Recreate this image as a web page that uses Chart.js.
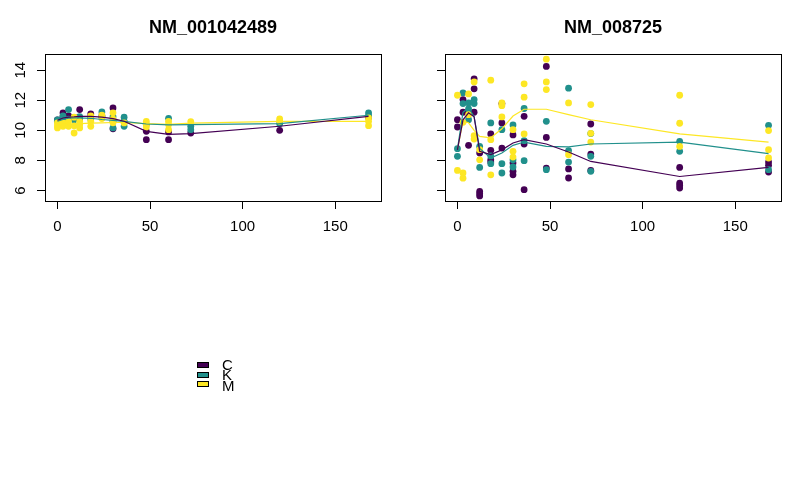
<!DOCTYPE html>
<html>
<head>
<meta charset="utf-8">
<script src="https://cdn.jsdelivr.net/npm/chart.js@4.4.1/dist/chart.umd.min.js"></script>
<style>
  body { margin: 0; background: #fff; font-family: "Liberation Sans", Arial, sans-serif; }
  #wrap { position: relative; width: 799px; height: 494px; overflow: hidden; }
  canvas { position: absolute; top: 0; }
  .key { position: absolute; left: 197px; width: 10px; height: 4px; border: 1px solid #000; }
  .lab { position: absolute; left: 222px; font-size: 15px; line-height: 15px; color: #000; }
</style>
</head>
<body>
<div id="wrap">
  <canvas id="left" width="400" height="494" style="left:0"></canvas>
  <canvas id="right" width="399" height="494" style="left:400px"></canvas>
  <div class="key" style="top:362px;background:#440154"></div>
  <div class="key" style="top:372px;background:#21908C"></div>
  <div class="key" style="top:381px;background:#FDE725"></div>
  <div class="lab" style="top:357px">C</div>
  <div class="lab" style="top:367px">K</div>
  <div class="lab" style="top:378px">M</div>
</div>
<script>
// sampling times (hours)
const times = [0, 3, 6, 9, 12, 18, 24, 30, 36, 48, 60, 72, 120, 168];
const xTicks = [0, 50, 100, 150];
const yTicks = [6, 8, 10, 12, 14];
const groups = ["C", "K", "M"];
const groupColors = ["#440154", "#21908C", "#FDE725"];

// NM_001042489: replicate values per time point
const g1C = [[10.7], [11.16, 10.9], [10.95], [10.85], [11.38, 10.8], [11.09, 10.9], [10.95], [11.49, 10.1], [10.55], [9.93, 9.38], [9.89, 9.38], [9.82], [10.0], [10.85]];
const g1K = [[10.6, 10.7], [10.83, 10.95], [11.38, 10.75], [10.85, 10.7], [10.9, 10.75], [10.75], [11.22, 10.9], [10.9, 10.6, 10.16], [10.87, 10.6, 10.27], [10.38], [10.8], [10.27, 10.04], [10.44], [11.16, 10.98]];
const g1M = [[10.49, 10.16, 10.3], [10.49, 10.27], [10.6, 10.27], [10.87, 10.3, 9.82], [10.6, 10.38, 10.16], [10.96, 10.6, 10.27], [11.0, 10.78], [11.16, 10.75, 10.5], [10.49], [10.6, 10.38, 10.22], [10.6, 10.38, 10.04], [10.58], [10.76, 10.6], [10.82, 10.6, 10.31]];
// NM_001042489: fitted trend per group
const g1CFit = [10.67, 10.82, 10.88, 10.9, 10.93, 10.93, 10.88, 10.78, 10.6, 9.93, 9.73, 9.78, 10.27, 10.93];
const g1KFit = [10.6, 10.72, 10.8, 10.82, 10.82, 10.8, 10.72, 10.66, 10.6, 10.42, 10.36, 10.38, 10.45, 11.0];
const g1MFit = [10.38, 10.4, 10.42, 10.43, 10.44, 10.48, 10.5, 10.52, 10.53, 10.45, 10.4, 10.48, 10.6, 10.6];

// NM_008725: replicate values per time point
const g2C = [[10.71, 10.22], [12.04, 11.2], [11.2, 9.0], [13.42, 12.76, 11.2], [8.49, 5.93, 5.78, 5.64], [9.76, 8.67, 8.04, 7.9], [11.78, 10.49, 8.82], [9.69, 7.82, 7.27, 7.04], [10.93, 9.09, 6.05], [14.25, 9.53, 7.49], [7.43, 6.83], [10.42, 8.42, 7.33], [7.53, 6.49, 6.33, 6.16], [7.89, 7.67, 7.22]];
const g2K = [[8.78, 8.27], [12.49, 11.78], [11.82, 11.42, 10.71], [12.04, 11.78], [8.93, 7.53], [10.49, 7.78, 8.3], [10.04, 7.78, 7.16], [10.36, 8.04, 7.56], [11.45, 9.31, 7.98], [10.6, 7.38], [12.8, 8.65, 7.89], [9.78, 8.27, 7.27], [9.27, 8.6], [10.33, 7.38]];
const g2M = [[12.33, 7.33], [10.53, 7.16, 6.82], [12.42, 11.04], [13.22, 9.64, 9.42], [8.71, 8.04], [13.33, 9.38, 7.04], [11.82, 11.64, 10.89], [10.04, 8.6, 8.22], [13.09, 12.2, 9.76], [14.73, 13.22, 12.71], [11.82, 8.38], [11.71, 9.8, 9.22], [12.33, 10.47, 8.93], [9.98, 8.71, 8.16]];
// NM_008725: fitted trend per group
const g2CFit = [8.7, 10.7, 11.16, 10.9, 8.6, 8.38, 8.7, 9.16, 9.38, 9.09, 8.56, 7.93, 6.93, 7.53];
const g2KFit = [8.75, 11.2, 11.5, 10.9, 8.8, 8.16, 8.49, 9.0, 9.22, 8.93, 8.9, 9.09, 9.22, 8.45];
const g2MFit = [8.75, 10.6, 10.5, 10.0, 9.6, 9.5, 10.1, 10.95, 11.4, 11.4, 11.04, 10.7, 9.76, 9.22];

const FONT = '"Liberation Sans", Arial, Helvetica, sans-serif';

function toPoints(reps) {
  const out = [];
  reps.forEach((vals, i) => vals.forEach(v => out.push({x: times[i], y: v})));
  return out;
}

function toLine(fit) {
  return fit.map((v, i) => ({x: times[i], y: v}));
}

// box round the plot and R-style rotated y labels (only where asked)
const frame = {
  id: "frame",
  afterDraw(chart, args, opts) {
    const {ctx, chartArea: a} = chart;
    const y = chart.scales.y;
    ctx.save();
    ctx.strokeStyle = "#000";
    ctx.lineWidth = 1;
    ctx.strokeRect(Math.round(a.left) + 0.5, Math.round(a.top) + 0.5,
      Math.round(a.right - a.left), Math.round(a.bottom - a.top));
    if (opts.yLabels) {
      ctx.fillStyle = "#000";
      ctx.font = "15px " + FONT;
      ctx.textAlign = "center";
      ctx.textBaseline = "middle";
      y.ticks.forEach(t => {
        ctx.save();
        ctx.translate(21, y.getPixelForValue(t.value));
        ctx.rotate(-Math.PI / 2);
        ctx.fillText(String(t.value), 0, 0);
        ctx.restore();
      });
    }
    ctx.restore();
  }
};

function makePanel(id, title, reps, fits, yLabels) {
  const lines = fits.map((f, i) => ({
    data: toLine(f),
    showLine: true,
    borderColor: groupColors[i],
    borderWidth: 1.2,
    pointRadius: 0,
    tension: 0
  }));
  // yellow on top of teal on top of purple
  const pts = reps.map((r, i) => ({
    data: toPoints(r),
    backgroundColor: groupColors[i],
    borderWidth: 0,
    pointRadius: 3.4
  })).reverse();

  return new Chart(document.getElementById(id), {
    type: "scatter",
    data: {datasets: lines.concat(pts)},
    options: {
      responsive: false,
      animation: false,
      layout: {padding: {left: 0, right: id === "left" ? 19 : 18, top: 0, bottom: 253}},
      plugins: {
        legend: {display: false},
        tooltip: {enabled: false},
        frame: {yLabels: yLabels},
        title: {
          display: true,
          text: title,
          fullSize: false,
          color: "#000",
          font: {family: FONT, size: 18, weight: "bold", lineHeight: 1.2},
          padding: {top: 17, bottom: 15}
        }
      },
      scales: {
        x: {
          type: "linear",
          min: -6.72,
          max: 174.72,
          afterBuildTicks: s => { s.ticks = xTicks.map(v => ({value: v})); },
          afterFit: s => { s.height = 40; },
          border: {display: false},
          grid: {drawOnChartArea: false, drawTicks: true, tickLength: 8, tickColor: "#000", tickWidth: 1},
          ticks: {color: "#000", padding: 9, maxRotation: 0, font: {family: FONT, size: 15}}
        },
        y: {
          type: "linear",
          min: 5.3,
          max: 15.1,
          afterBuildTicks: s => { s.ticks = yTicks.map(v => ({value: v})); },
          afterFit: s => { s.width = 45; },
          border: {display: false},
          grid: {drawOnChartArea: false, drawTicks: true, tickLength: 8, tickColor: "#000", tickWidth: 1},
          ticks: {display: false}
        }
      }
    },
    plugins: [frame]
  });
}

makePanel("left", "NM_001042489", [g1C, g1K, g1M], [g1CFit, g1KFit, g1MFit], true);
makePanel("right", "NM_008725", [g2C, g2K, g2M], [g2CFit, g2KFit, g2MFit], false);
</script>
</body>
</html>
